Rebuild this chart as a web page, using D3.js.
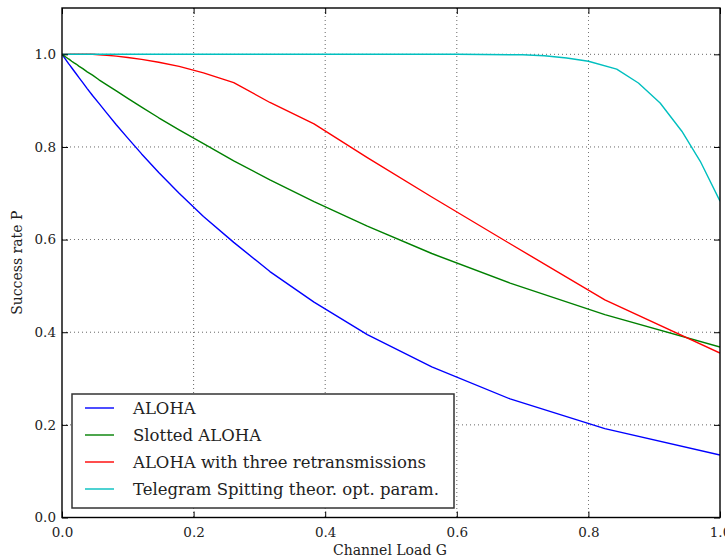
<!DOCTYPE html>
<html>
<head>
<meta charset="utf-8">
<script src="https://cdn.jsdelivr.net/npm/d3@7"></script>
<style>
  html, body { margin: 0; padding: 0; background: #fff; }
  svg { display: block; }
  text { font-family: "DejaVu Serif", "Liberation Serif", serif; fill: #222; }
</style>
</head>
<body>
<svg id="chart" width="725" height="559"></svg>
<script>
// Channel load G sample points (0 followed by a logarithmic grid)
const loadG = [0, 0.01, 0.0121, 0.0147, 0.0178, 0.0215, 0.0261, 0.0316, 0.0383, 0.0464,
  0.0562, 0.0681, 0.0825, 0.1, 0.121, 0.147, 0.178, 0.215, 0.261, 0.316, 0.383,
  0.464, 0.562, 0.681, 0.825, 1.0];

// Success rate of pure ALOHA
const alohaP = [1.0, 0.980, 0.976, 0.971, 0.965, 0.958, 0.949, 0.939, 0.926, 0.911,
  0.894, 0.873, 0.848, 0.819, 0.785, 0.745, 0.700, 0.650, 0.594, 0.531, 0.465,
  0.395, 0.325, 0.256, 0.192, 0.135];

// Success rate of slotted ALOHA
const slottedP = [1.0, 0.990, 0.988, 0.985, 0.982, 0.979, 0.974, 0.969, 0.962, 0.955,
  0.945, 0.934, 0.921, 0.905, 0.886, 0.863, 0.837, 0.807, 0.770, 0.729, 0.682,
  0.629, 0.570, 0.506, 0.438, 0.368];

// Success rate of ALOHA with three retransmissions
const retransP = [1.0, 1.0, 1.0, 1.0, 1.0, 1.0, 1.0, 1.0, 1.0, 1.0,
  0.999, 0.998, 0.996, 0.993, 0.989, 0.983, 0.974, 0.960, 0.939, 0.896, 0.850,
  0.777, 0.692, 0.591, 0.470, 0.355];

// Telegram splitting with theoretically optimal parameters (own load grid)
const splitG = [0, 0.1, 0.2, 0.3, 0.4, 0.5, 0.6, 0.7, 0.733, 0.767, 0.8, 0.843,
  0.876, 0.909, 0.942, 0.970, 1.0];
const splitP = [1.0, 1.0, 1.0, 1.0, 1.0, 1.0, 1.0, 0.999, 0.997, 0.992, 0.985, 0.968,
  0.938, 0.895, 0.834, 0.769, 0.683];

const xTicks = [0.0, 0.2, 0.4, 0.6, 0.8, 1.0];
const yTicks = [0.0, 0.2, 0.4, 0.6, 0.8, 1.0];

const seriesNames = ["ALOHA", "Slotted ALOHA", "ALOHA with three retransmissions",
  "Telegram Spitting theor. opt. param."];
const seriesColors = ["#0000ff", "#008000", "#ff0000", "#00bfbf"];

const series = [
  { name: seriesNames[0], color: seriesColors[0], g: loadG, p: alohaP },
  { name: seriesNames[1], color: seriesColors[1], g: loadG, p: slottedP },
  { name: seriesNames[2], color: seriesColors[2], g: loadG, p: retransP },
  { name: seriesNames[3], color: seriesColors[3], g: splitG, p: splitP }
];

const svg = d3.select("#chart");
const plotL = 62, plotR = 720, plotT = 8, plotB = 517.5;

const x = d3.scaleLinear().domain([0, 1]).range([plotL, plotR]);
const y = d3.scaleLinear().domain([0, 1.1]).range([plotB, plotT]);

const fmt = d3.format(".1f");

// dotted grid
const grid = svg.append("g");
grid.selectAll("line.gx").data(xTicks.slice(1, -1)).join("line")
  .attr("x1", d => x(d)).attr("x2", d => x(d)).attr("y1", plotT).attr("y2", plotB)
  .attr("stroke", "#000").attr("stroke-width", 0.8).attr("stroke-dasharray", "1,3")
  .attr("opacity", 0.75);
grid.selectAll("line.gy").data(yTicks.slice(1)).join("line")
  .attr("x1", plotL).attr("x2", plotR).attr("y1", d => y(d)).attr("y2", d => y(d))
  .attr("stroke", "#000").attr("stroke-width", 0.8).attr("stroke-dasharray", "1,3")
  .attr("opacity", 0.75);

// data lines
svg.append("clipPath").attr("id", "plotClip").append("rect")
  .attr("x", plotL).attr("y", plotT).attr("width", plotR - plotL).attr("height", plotB - plotT);
const lineGen = d3.line().x(d => x(d[0])).y(d => y(d[1]));
const lines = svg.append("g").attr("clip-path", "url(#plotClip)");
series.forEach(s => {
  lines.append("path")
    .datum(s.g.map((g, i) => [g, s.p[i]]))
    .attr("d", lineGen)
    .attr("fill", "none")
    .attr("stroke", s.color)
    .attr("stroke-width", 1.4)
    .attr("stroke-linejoin", "round");
});

// axes with inward ticks on all four sides
const tickLen = 6;
const axB = svg.append("g").attr("transform", `translate(0,${plotB})`)
  .call(d3.axisBottom(x).tickValues(xTicks).tickFormat(fmt).tickSize(-tickLen).tickPadding(10));
const axT = svg.append("g").attr("transform", `translate(0,${plotT})`)
  .call(d3.axisTop(x).tickValues(xTicks).tickFormat("").tickSize(-tickLen));
const axL = svg.append("g").attr("transform", `translate(${plotL},0)`)
  .call(d3.axisLeft(y).tickValues(yTicks).tickFormat(fmt).tickSize(-tickLen).tickPadding(10));
const axR = svg.append("g").attr("transform", `translate(${plotR},0)`)
  .call(d3.axisRight(y).tickValues(yTicks).tickFormat("").tickSize(-tickLen));
[axB, axT, axL, axR].forEach(a => {
  a.select(".domain").remove();
  a.selectAll(".tick line").attr("stroke", "#000").attr("stroke-width", 1);
  a.selectAll(".tick text").attr("font-family", "DejaVu Serif").attr("font-size", 13.5)
    .attr("fill", "#333");
});
axL.selectAll(".tick text").attr("dx", 4);

// plot frame
svg.append("rect").attr("x", plotL).attr("y", plotT)
  .attr("width", plotR - plotL).attr("height", plotB - plotT)
  .attr("fill", "none").attr("stroke", "#000").attr("stroke-width", 1.4);

// axis titles
svg.append("text").attr("x", 390).attr("y", 555)
  .attr("text-anchor", "middle").attr("font-size", 14).attr("fill", "#333")
  .text("Channel Load G");
svg.append("text").attr("transform", `translate(22,${(plotT + plotB) / 2}) rotate(-90)`)
  .attr("text-anchor", "middle").attr("font-size", 14).attr("fill", "#333")
  .text("Success rate P");

// legend
const legend = svg.append("g");
legend.append("rect").attr("x", 72).attr("y", 394).attr("width", 382).attr("height", 114)
  .attr("fill", "#fff").attr("stroke", "#333").attr("stroke-width", 1.5);
series.forEach((s, i) => {
  const cy = 408 + i * 27;
  legend.append("line").attr("x1", 85).attr("x2", 114).attr("y1", cy).attr("y2", cy)
    .attr("stroke", s.color).attr("stroke-width", 1.4);
  legend.append("text").attr("x", 133).attr("y", cy).attr("dy", "0.35em")
    .attr("font-size", 16.5).attr("fill", "#333").text(s.name);
});
</script>
</body>
</html>
